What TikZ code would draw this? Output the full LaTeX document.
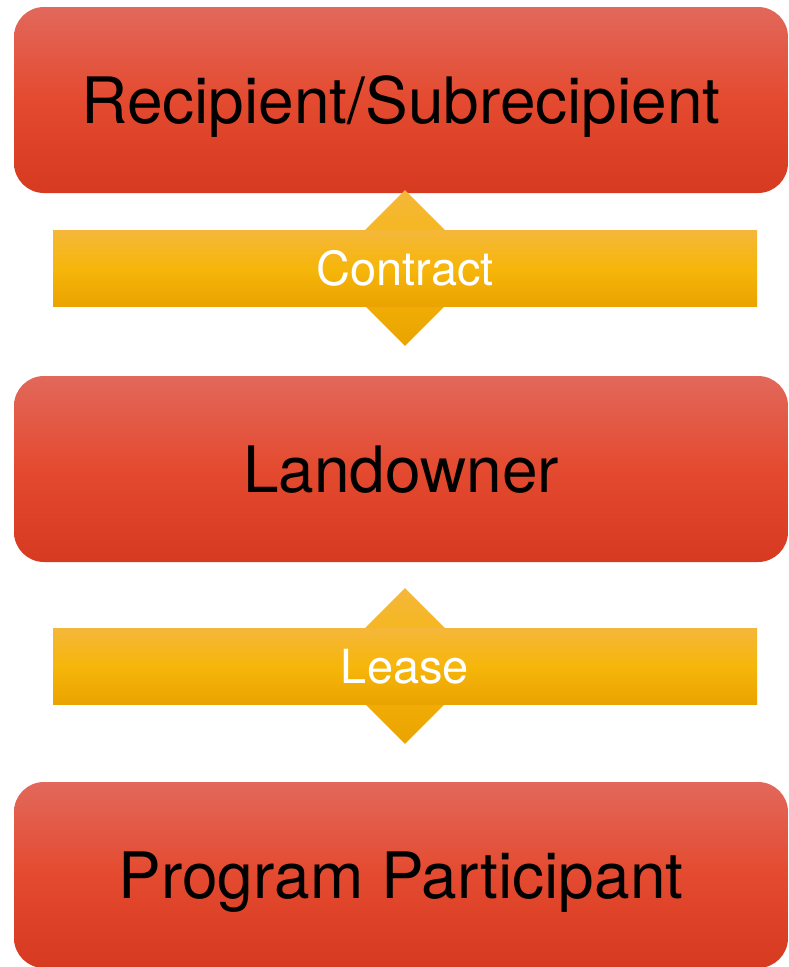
\documentclass[tikz,border=0pt]{standalone}
\usepackage{fontspec}
\setmainfont{TeX Gyre Heros}
\usetikzlibrary{shapes.geometric}

\definecolor{redtop}{HTML}{E2685B}
\definecolor{redmid}{HTML}{E44A2F}
\definecolor{redbot}{HTML}{D63A20}
\definecolor{goldtop}{HTML}{F5B73A}
\definecolor{goldmid}{HTML}{F6B60A}
\definecolor{goldbot}{HTML}{EAA300}

\tikzset{
  party/.style={rectangle, rounded corners=30pt, inner sep=0pt,
    minimum width=774pt, minimum height=186pt,
    top color=redtop, bottom color=redbot, middle color=redmid,
    font=\fontsize{64}{70}\selectfont, text=black,
    text height=46pt, text depth=0pt},
  band/.style={rectangle, inner sep=0pt,
    minimum width=704pt, minimum height=76pt,
    top color=goldtop, bottom color=goldbot, middle color=goldmid,
    font=\fontsize{47}{52}\selectfont, text=white,
    text height=34pt, text depth=0pt},
  tip/.style={diamond, aspect=1, inner sep=0pt, minimum size=156pt,
    top color=goldtop, bottom color=goldbot, middle color=goldmid}
}

\begin{document}
\begin{tikzpicture}[x=1pt,y=-1pt]
\useasboundingbox (0,0) rectangle (789,967);

% the three parties
\node[party] (recipient) at (401,100) {Recipient/Subrecipient};
\node[party] (landowner) at (401,469) {Landowner};
\node[party] (participant) at (401,875) {Program Participant};

% agreements between them
\node[tip] (contracttip) at (405,268) {};
\node[band] (contract) at (405,268) {Contract};
\node[tip] (leasetip) at (405,666) {};
\node[band] (lease) at (405,666) {Lease};
\end{tikzpicture}
\end{document}
